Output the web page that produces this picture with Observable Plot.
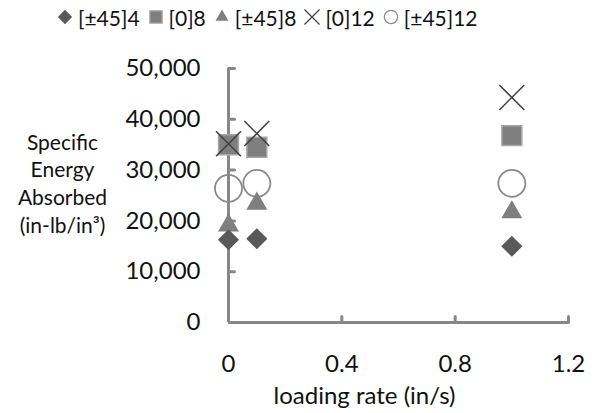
<!DOCTYPE html>
<html><head><meta charset="utf-8">
<script src="https://cdn.jsdelivr.net/npm/d3@7"></script>
<script src="https://cdn.jsdelivr.net/npm/@observablehq/plot@0.6"></script>
<style>
body{margin:0;background:#fff;font-family:Lato,"Open Sans",sans-serif;}
#wrap{position:relative;width:595px;height:413px;}
#legend{position:absolute;left:56px;top:3px;height:28px;display:flex;align-items:center;font-size:21px;color:#111;white-space:nowrap;}
#legend .it{display:flex;align-items:center;margin-right:7px;}
#legend svg{margin-right:4px;}
#chart{position:absolute;left:0;top:34px;}
</style></head>
<body><div id="wrap"><div id="legend"></div><div id="chart"></div></div>
<script>
const rates = [0, 0.1, 1.0];
const seriesNames = ["[±45]4", "[0]8", "[±45]8", "[0]12", "[±45]12"];
const s45_4 = [16300, 16500, 15000];
const s0_8 = [35000, 34500, 36800];
const s45_8 = [19100, 23400, 21700];
const s0_12 = [35200, 37200, 44300];
const s45_12 = [26400, 27400, 27400];
const xTicks = [0, 0.4, 0.8, 1.2];
const yTicks = [0, 10000, 20000, 30000, 40000, 50000];

const rows = (vals) => rates.map((r, i) => ({x: r, y: vals[i]}));
const axisColor = "#878787";

const styles = [
  {sym: "diamond2", r: 9.5, fill: "#595959", stroke: "none"},
  {sym: "square", r: 11.2, fill: "#7f7f7f", stroke: "#a6a6a6", sw: 1.5},
  {sym: "triangle2", r: 10, fill: "#7f7f7f", stroke: "none"},
  {sym: "times", r: 11.4, fill: "none", stroke: "#404040", sw: 1.5},
  {sym: "circle", r: 13.5, fill: "none", stroke: "#8a8a8a", sw: 1.8}
];
const data = [s45_4, s0_8, s45_8, s0_12, s45_12];

// draw order: circle, triangle, diamond, square, times
const order = [4, 2, 0, 1, 3];
const marks = order.map(i => {
  const s = styles[i];
  return Plot.dot(rows(data[i]), {x: "x", y: "y", symbol: () => s.sym, r: s.r,
    fill: s.fill, stroke: s.stroke, strokeWidth: s.sw || 0});
});
const tickShape = {draw(c, l){c.moveTo(0,0);c.lineTo(0,-l);}};

const plot = Plot.plot({
  width: 595, height: 378,
  marginLeft: 228, marginRight: 27, marginTop: 34, marginBottom: 90,
  style: {fontFamily: "Lato, 'Open Sans', sans-serif", fontSize: "24px", color: "#111", background: "white"},
  x: {domain: [0, 1.2]},
  y: {domain: [0, 50000]},
  symbol: {type: "identity"},
  marks: [
    Plot.ruleX([0], {stroke: axisColor, strokeWidth: 3}),
    Plot.ruleY([0], {stroke: axisColor, strokeWidth: 3}),
    Plot.vector(yTicks.slice(1), {x: 0, y: d => d, length: 6, rotate: 90, anchor: "start", stroke: axisColor, strokeWidth: 3, shape: tickShape}),
    Plot.vector(xTicks.slice(1), {x: d => d, y: 0, length: 6, rotate: 0, anchor: "start", stroke: axisColor, strokeWidth: 3, shape: tickShape}),
    Plot.axisY(yTicks, {tickSize: 0, tickPadding: 28, tickFormat: d3.format(","), label: null, fill: "#111", fontSize: 24}),
    Plot.axisX(xTicks, {tickSize: 0, tickPadding: 32, tickFormat: d => String(d), label: null, fill: "#111", fontSize: 24}),
    ...marks,
    Plot.text(["loading rate (in/s)"], {frameAnchor: "bottom", dy: 74, dx: -34, lineAnchor: "middle", fontSize: 24, fill: "#111"}),
    Plot.text(["Specific\nEnergy\nAbsorbed\n(in-lb/in³)"], {frameAnchor: "left", dx: -166, dy: -13, textAnchor: "middle", lineAnchor: "middle", lineHeight: 1.33, fontSize: 21, fill: "#111"})
  ]
});
document.getElementById("chart").appendChild(plot);

// legend
const leg = document.getElementById("legend");
const symMap = {diamond2: d3.symbolDiamond2, square: d3.symbolSquare, triangle2: d3.symbolTriangle2, times: d3.symbolTimes, circle: d3.symbolCircle};
const sizes = {diamond2: 130, square: 150, triangle2: 120, times: 150, circle: 140};
seriesNames.forEach((name, i) => {
  const s = styles[i];
  const it = document.createElement("div"); it.className = "it";
  const sv = d3.create("svg").attr("width", 18).attr("height", 18);
  sv.append("path").attr("transform", "translate(9,9)")
    .attr("d", d3.symbol(symMap[s.sym], sizes[s.sym])())
    .attr("fill", s.fill).attr("stroke", s.stroke === "none" ? null : s.stroke).attr("stroke-width", s.sw ? 1.2 : 0);
  it.appendChild(sv.node());
  const sp = document.createElement("span"); sp.textContent = name; it.appendChild(sp);
  leg.appendChild(it);
});
</script></body></html>
